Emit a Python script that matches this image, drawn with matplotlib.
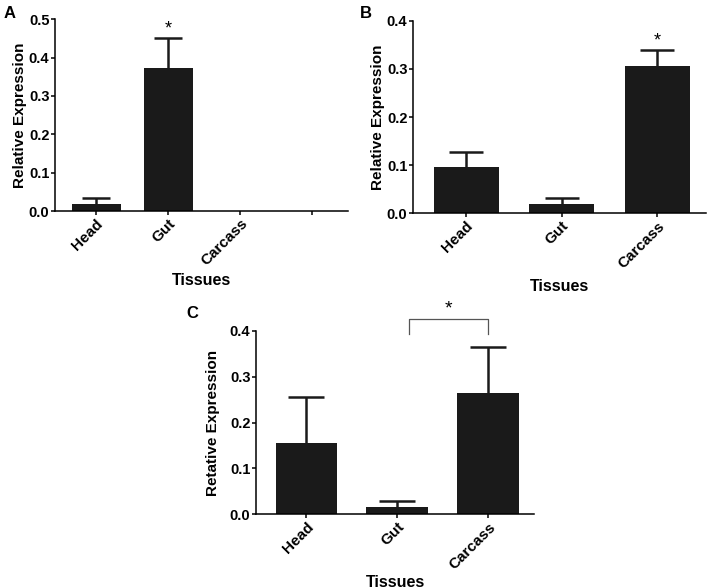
import matplotlib
matplotlib.use("Agg")
import matplotlib.pyplot as plt
import numpy as np

plt.rcParams["font.family"] = ["Liberation Sans", "DejaVu Sans"]
plt.rcParams["font.weight"] = "bold"

# datos
tejidos = ["Head", "Gut", "Carcass"]

a_media = [0.018, 0.373]
a_error = [0.015, 0.079]
a_ticks = ["Head", "Gut", "Carcass", ""]

b_media = [0.097, 0.019, 0.306]
b_error = [0.031, 0.014, 0.033]

c_media = [0.155, 0.017, 0.265]
c_error = [0.101, 0.013, 0.100]

COLOR_BARRA = "#1a1a1a"


def panel(ax, medias, errores, etiquetas, ymax, xlim, capsize, ylabel,
          ylabelpad, xlabelpad):
    x = np.arange(len(medias))
    ax.bar(x, medias, width=0.68, color=COLOR_BARRA, zorder=2)
    eb = ax.errorbar(x, medias, yerr=[np.zeros(len(errores)), errores],
                     fmt="none", ecolor=COLOR_BARRA, elinewidth=1.8,
                     capsize=capsize, capthick=1.8, zorder=3)
    # solo la barra superior
    for cap in eb[1]:
        if np.allclose(cap.get_ydata(), medias):
            cap.set_visible(False)
    ax.set_xticks(np.arange(len(etiquetas)))
    ax.set_xticklabels(etiquetas, rotation=45, ha="right",
                       rotation_mode="anchor", fontsize=11, fontweight="bold")
    yt = np.arange(0, ymax + 0.001, 0.1)
    ax.set_yticks(yt)
    ax.set_yticklabels([f"{v:.1f}" for v in yt], fontsize=10.5,
                       fontweight="bold")
    ax.set_ylim(0, ymax)
    ax.set_xlim(*xlim)
    for s in ["top", "right"]:
        ax.spines[s].set_visible(False)
    for s in ["left", "bottom"]:
        ax.spines[s].set_linewidth(1.1)
    ax.tick_params(length=3, width=1.1, pad=1)
    ax.set_ylabel(ylabel, fontsize=11, fontweight="bold", labelpad=ylabelpad)
    ax.set_xlabel("Tissues", fontsize=11.5, fontweight="bold",
                  labelpad=xlabelpad)


fig = plt.figure(figsize=(7.08, 5.88), dpi=100)

ax_a = fig.add_axes([0.0777, 0.641, 0.414, 0.3265])
panel(ax_a, a_media, a_error, a_ticks, 0.5, (-0.57, 3.5), 10,
      "Relative Expression", 1, 3)
ax_a.text(1, a_media[1] + a_error[1] + 0.0, "*", ha="center", va="bottom",
          fontsize=13, fontweight="normal")

ax_b = fig.add_axes([0.5833, 0.637, 0.414, 0.3276])
panel(ax_b, b_media, b_error, tejidos, 0.4, (-0.555, 2.51), 12,
      "Relative Expression", 1, 6)
ax_b.text(2, b_media[2] + b_error[2] + 0.001, "*", ha="center", va="bottom",
          fontsize=13, fontweight="normal")

ax_c = fig.add_axes([0.3616, 0.1253, 0.3927, 0.3122])
panel(ax_c, c_media, c_error, tejidos, 0.4, (-0.555, 2.505), 13,
      "Retative Expression", 7, 2)
ax_c.plot([1.13, 1.13, 2.0, 2.0], [0.394, 0.425, 0.425, 0.394],
          color="#555555", linewidth=0.9, clip_on=False)
ax_c.text(1.565, 0.428, "*", ha="center", va="bottom", fontsize=14,
          fontweight="normal")

# letras de los paneles
fig.text(10 / 708, 1 - 14 / 588, "A", fontsize=12, fontweight="bold",
         ha="center", va="center")
fig.text(366 / 708, 1 - 14 / 588, "B", fontsize=12, fontweight="bold",
         ha="center", va="center")
fig.text(192 / 708, 1 - 313 / 588, "C", fontsize=12, fontweight="bold",
         ha="center", va="center")

fig.savefig("out.png", dpi=100)
